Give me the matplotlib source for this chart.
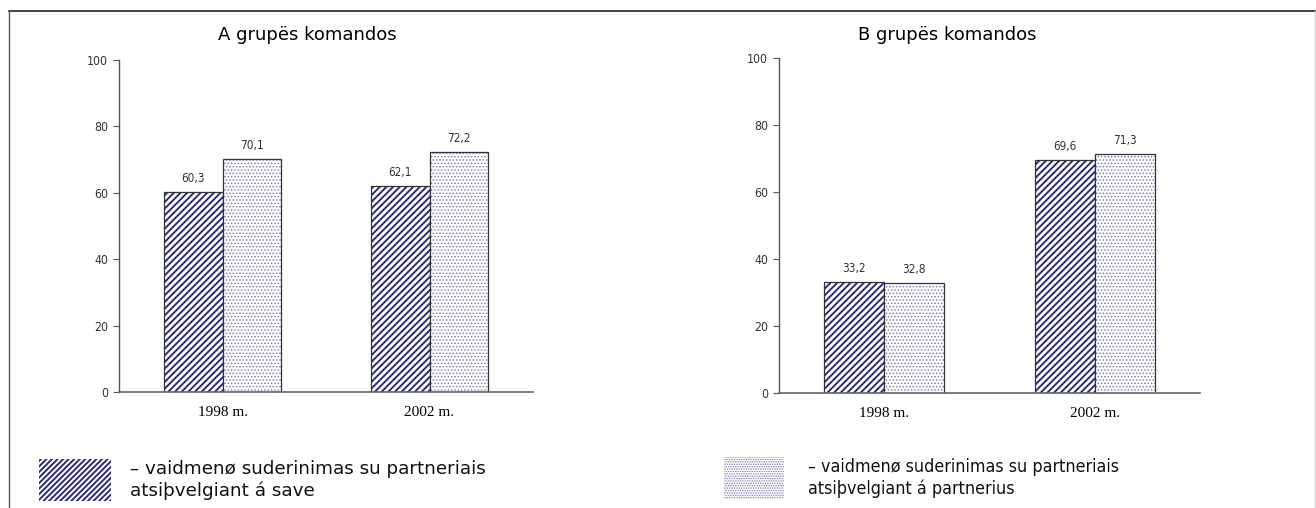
import numpy as np
import matplotlib
matplotlib.use("Agg")
import matplotlib.pyplot as plt
from matplotlib.lines import Line2D
from matplotlib.patches import Rectangle

categories = ['1998 m.', '2002 m.']
a_self = [60.3, 62.1]
a_partner = [70.1, 72.2]
b_self = [33.2, 69.6]
b_partner = [32.8, 71.3]
yticks = [0, 20, 40, 60, 80, 100]
legend_self = '– vaidmenø suderinimas su partneriais\natsiþvelgiant á save'
legend_partner = '– vaidmenø suderinimas su partneriais\natsiþvelgiant á partnerius'

NAVY = '#2b2b78'
DOTS = '#7e7eaa'
STRIPES = '/////'
SPECKLE = '.....'

fig = plt.figure(figsize=(13.16, 5.08), dpi=100)
W, H = 1316.0, 508.0


def fmt(v):
    return ('%.1f' % v).replace('.', ',')


def pattern_lw(hatch):
    # hatch line width is picked up when the patch is made
    plt.rcParams['hatch.linewidth'] = 1.4 if '/' in hatch else 0.7


def bars(ax, x, vals, hatch, hcol):
    pattern_lw(hatch)
    ax.bar(x, vals, width=0.285, color='white', edgecolor=hcol, hatch=hatch, linewidth=0)
    ax.bar(x, vals, width=0.285, color='none', edgecolor='#333333', linewidth=0.9)
    for xi, v in zip(x, vals):
        ax.annotate(fmt(v), (xi, v), xytext=(0, 5), textcoords='offset points',
                    ha='center', va='bottom', fontsize=8.5, fontstretch='condensed',
                    color='#333333')


def panel(rect, self_vals, partner_vals):
    ax = fig.add_axes(rect)
    x = np.arange(len(categories))
    bars(ax, x - 0.1425, self_vals, STRIPES, NAVY)
    bars(ax, x + 0.1425, partner_vals, SPECKLE, DOTS)
    ax.set_xlim(-0.5, 1.5)
    ax.set_ylim(0, 100)
    ax.set_yticks(yticks)
    ax.set_yticklabels([str(t) for t in yticks], fontsize=8.8, fontstretch='condensed',
                       color='#333333')
    ax.set_xticks(x)
    ax.set_xticklabels(categories, family='Liberation Serif', fontsize=11, color='black')
    ax.tick_params(axis='x', length=0, pad=10)
    ax.tick_params(axis='y', length=4, width=0.8, color='#555555', pad=4)
    for s in ['top', 'right']:
        ax.spines[s].set_visible(False)
    ax.spines['left'].set_color('#555555')
    ax.spines['bottom'].set_color('#666666')
    ax.spines['left'].set_linewidth(1.0)
    ax.spines['bottom'].set_linewidth(1.2)
    return ax


panel([119 / W, 1 - 392 / H, 414 / W, 332 / H], a_self, a_partner)
panel([779 / W, 1 - 393 / H, 421 / W, 335 / H], b_self, b_partner)

fig.text(307 / W, 1 - 35 / H, 'A grupës komandos', ha='center', va='center', fontsize=13)
fig.text(947 / W, 1 - 35 / H, 'B grupës komandos', ha='center', va='center', fontsize=13)

# legend swatches and their captions
sw1 = fig.add_axes([39 / W, 1 - 501 / H, 72 / W, 42 / H])
pattern_lw(STRIPES)
sw1.add_patch(Rectangle((0, 0), 1, 1, facecolor='white', edgecolor=NAVY, hatch=STRIPES + '/', linewidth=0))
sw2 = fig.add_axes([724 / W, 1 - 499 / H, 60 / W, 42 / H])
pattern_lw(SPECKLE)
sw2.add_patch(Rectangle((0, 0), 1, 1, facecolor='white', edgecolor=DOTS, hatch=SPECKLE + '..', linewidth=0))
for sw in (sw1, sw2):
    sw.set_xlim(0, 1)
    sw.set_ylim(0, 1)
    sw.axis('off')

fig.text(130 / W, 1 - 480 / H, legend_self, ha='left', va='center', fontsize=13.2,
         linespacing=1.25, color='#111111')
fig.text(808 / W, 1 - 478 / H, legend_partner, ha='left', va='center', fontsize=12.8,
         fontstretch='condensed', linespacing=1.25, color='#111111')

# page frame
fig.add_artist(Line2D([9 / W, 1.0], [1 - 11 / H, 1 - 11 / H], color='#222222', lw=1.2))
fig.add_artist(Line2D([9 / W, 9 / W], [0, 1 - 11 / H], color='#555555', lw=1.0))
fig.add_artist(Line2D([1315 / W, 1315 / W], [0, 1 - 11 / H], color='#cccccc', lw=1.0))

fig.savefig('out.png', dpi=100)
